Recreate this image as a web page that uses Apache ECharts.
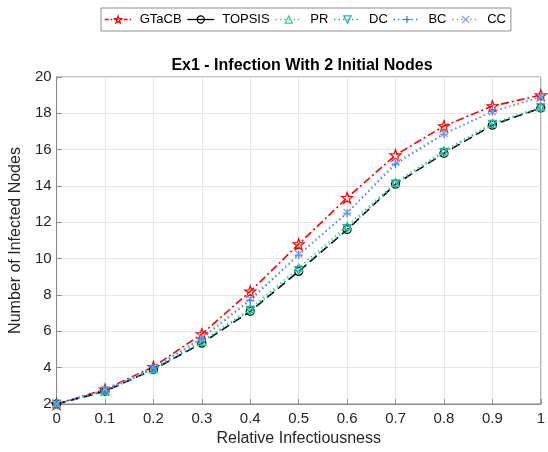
<!DOCTYPE html>
<html><head><meta charset="utf-8">
<script src="https://cdn.jsdelivr.net/npm/echarts@6/dist/echarts.min.js"></script>
<style>html,body{margin:0;padding:0;background:#fff}#c{width:548px;height:452px}</style>
</head><body><div id="c"></div>
<script>
const xVals = [0, 0.1, 0.2, 0.3, 0.4, 0.5, 0.6, 0.7, 0.8, 0.9, 1];
const GTaCB  = [2, 2.8, 4.05, 5.85, 8.2, 10.8, 13.35, 15.7, 17.3, 18.4, 19.0];
const TOPSIS = [2, 2.7, 3.9, 5.35, 7.1, 9.3, 11.6, 14.1, 15.8, 17.35, 18.3];
const PR     = [2, 2.75, 3.95, 5.45, 7.25, 9.5, 11.8, 14.2, 15.95, 17.45, 18.35];
const DC     = [2, 2.7, 3.9, 5.4, 7.15, 9.35, 11.65, 14.1, 15.85, 17.4, 18.3];
const BC     = [2, 2.75, 4.0, 5.6, 7.7, 10.2, 12.5, 15.2, 16.85, 18.1, 18.9];
const CC     = [2, 2.8, 4.0, 5.65, 7.8, 10.25, 12.55, 15.3, 16.9, 18.1, 18.9];
const seriesNames = ['GTaCB', 'TOPSIS', 'PR', 'DC', 'BC', 'CC'];

const STAR = 'path://M0,-10 L2.35,-3.24 L9.51,-3.09 L3.8,1.24 L5.88,8.09 L0,4 L-5.88,8.09 L-3.8,1.24 L-9.51,-3.09 L-2.35,-3.24 Z';
const CIRCLE = 'path://M10,0 A10,10 0 1 1 -10,0 A10,10 0 1 1 10,0 Z';
const PLUS = 'path://M0,-10 L0,10 M-10,0 L10,0';
const CROSS = 'path://M-10,-10 L10,10 M-10,10 L10,-10';
const TRI_UP = 'path://M0,-10 L10,8 L-10,8 Z';
const TRI_DN = 'path://M0,10 L10,-8 L-10,-8 Z';

const styles = {
  GTaCB:  {color:'#ff0000', symbol:STAR, size:11, type:[8,3,2,3], lw:1.6, legendType:[4,2,1.5,2]},
  TOPSIS: {color:'#000000', symbol:CIRCLE, size:8, type:[9,5], lw:1.6, legendType:'solid'},
  PR:     {color:'#3cc98d', symbol:TRI_UP, size:8, type:[1.5,3], lw:1.4, legendType:[1.5,3]},
  DC:     {color:'#1ab0a8', symbol:TRI_DN, size:8, type:[1.5,3], lw:1.4, legendType:[1.5,3]},
  BC:     {color:'#2f7fd8', symbol:PLUS, size:8, type:[1.5,3], lw:1.4, legendType:[1.5,3]},
  CC:     {color:'#7d9cf2', symbol:CROSS, size:7, type:[1.5,3], lw:1.4, legendType:[1.5,3]}
};
const dataMap = {GTaCB, TOPSIS, PR, DC, BC, CC};

function pts(arr){ return xVals.map((x,i)=>[x, arr[i]]); }
const series = seriesNames.map(n => {
  const s = styles[n];
  return {
    name:n, type:'line', data: pts(dataMap[n]), symbol:s.symbol, symbolSize:s.size,
    showAllSymbol:true,
    lineStyle:{color:s.color, width:s.lw, type:s.type},
    itemStyle:{color:'rgba(0,0,0,0)', borderColor:s.color, borderWidth:1.2},
    emphasis:{disabled:true}, animation:false
  };
});
const legendData = seriesNames.map(n => {
  const s = styles[n];
  return {name:n,
    itemStyle:{color:'rgba(0,0,0,0)', borderColor:s.color, borderWidth:1.2},
    lineStyle:{color:s.color, width:1.3, type:s.legendType}};
});

const chart = echarts.init(document.getElementById('c'), null, {renderer:'canvas'});
chart.setOption({
  backgroundColor:'#fff',
  animation:false,
  title:{text:'Ex1 - Infection With 2 Initial Nodes', left:297, top:53, textAlign:'center',
    textStyle:{fontFamily:'Liberation Sans, Arial', fontSize:16, fontWeight:'bold', color:'#000'}},
  legend:{
    data: legendData,
    top:8, left:101, itemGap:5, itemWidth:27, itemHeight:9,
    padding:[5,5,5,3], borderColor:'#8c8c8c', borderWidth:1, backgroundColor:'#fff',
    textStyle:{fontFamily:'Liberation Sans, Arial', fontSize:13, color:'#000', padding:[0,0,0,3]}},
  grid:{left:54, right:4, top:77, bottom:47, show:true, borderColor:'#8a8a8a', borderWidth:1},
  xAxis:{type:'value', min:0, max:1, interval:0.1,
    name:'Relative Infectiousness', nameLocation:'middle', nameGap:27,
    nameTextStyle:{fontFamily:'Liberation Sans, Arial', fontSize:16, color:'#262626'},
    axisLine:{lineStyle:{color:'#8a8a8a'}},
    axisTick:{inside:true, length:5, lineStyle:{color:'#8a8a8a'}},
    axisLabel:{fontFamily:'Liberation Sans, Arial', fontSize:15, color:'#262626', margin:7},
    splitLine:{lineStyle:{color:'#e6e6e6'}}},
  yAxis:{type:'value', min:2, max:20, interval:2,
    name:'Number of Infected Nodes', nameLocation:'middle', nameGap:27,
    nameTextStyle:{fontFamily:'Liberation Sans, Arial', fontSize:16, color:'#262626'},
    axisLine:{show:true, lineStyle:{color:'#8a8a8a'}},
    axisTick:{show:true, inside:true, length:5, lineStyle:{color:'#8a8a8a'}},
    axisLabel:{fontFamily:'Liberation Sans, Arial', fontSize:15, color:'#262626', margin:5},
    splitLine:{lineStyle:{color:'#e6e6e6'}}},
  series
});
</script></body></html>
